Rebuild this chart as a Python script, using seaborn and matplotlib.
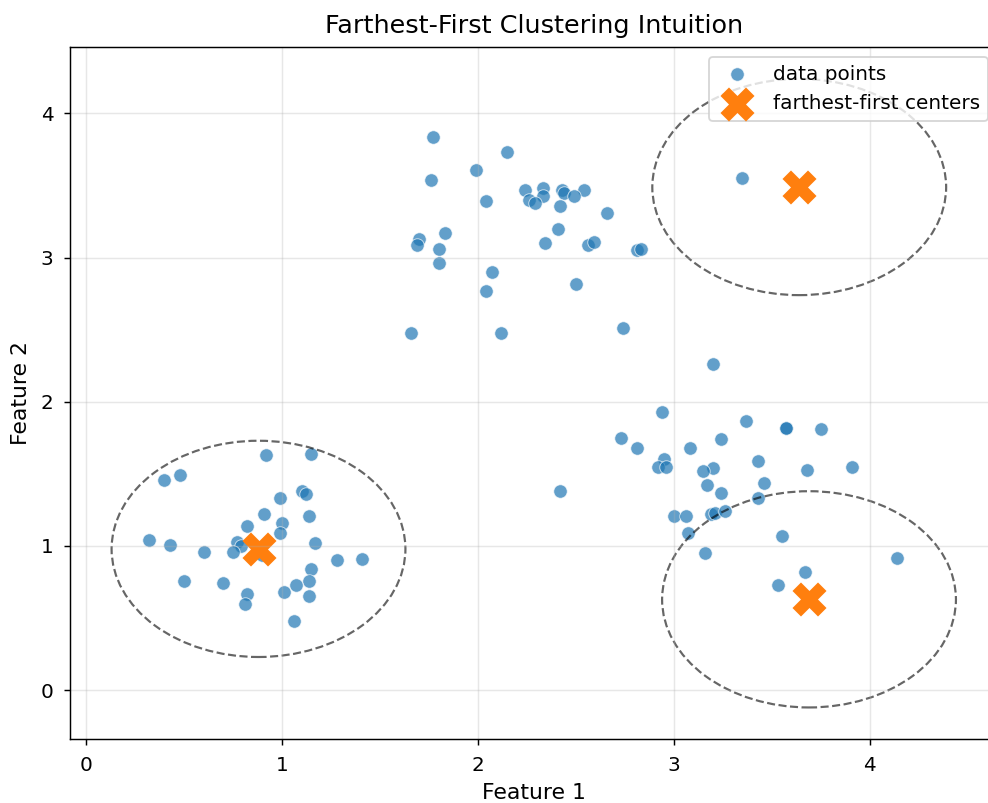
#%% libraries
import pandas as pd
import seaborn as sb
import matplotlib.pyplot as plt
from matplotlib.patches import Circle

#%% data
x_points = [0.92, 1.15, 0.40, 0.48, 1.10, 1.12, 0.99, 0.91, 1.14, 0.82,
            1.00, 0.99, 0.32, 0.43, 0.77, 0.79, 1.17, 0.60, 0.75, 0.90,
            1.28, 1.41, 1.15, 1.14, 0.50, 0.70, 1.07, 1.01, 0.82, 0.81,
            1.14, 1.06,
            1.77, 2.15, 1.99, 1.76, 2.24, 2.33, 2.33, 2.43, 2.44, 2.54,
            2.26, 2.29, 2.49, 2.04, 2.42, 2.66, 2.41, 1.83, 1.70, 1.69,
            1.80, 1.80, 2.34, 2.56, 2.59, 2.81, 2.83, 2.07, 2.04, 2.50,
            1.66, 2.12, 2.74,
            3.20, 2.94, 3.37, 3.57, 3.57, 3.75, 2.73, 2.81, 3.08, 3.24,
            2.95, 2.92, 2.96, 3.43, 3.20, 3.15, 3.68, 3.91, 3.17, 3.46,
            3.24, 3.43, 3.00, 3.06, 3.19, 3.21, 3.26, 3.07, 3.55, 3.16,
            4.14, 3.67, 3.53, 2.42,
            3.35]
y_points = [1.63, 1.64, 1.46, 1.49, 1.38, 1.36, 1.33, 1.22, 1.21, 1.14,
            1.16, 1.09, 1.04, 1.01, 1.03, 1.00, 1.02, 0.96, 0.96, 0.94,
            0.90, 0.91, 0.84, 0.76, 0.76, 0.74, 0.73, 0.68, 0.67, 0.60,
            0.65, 0.48,
            3.84, 3.73, 3.61, 3.54, 3.47, 3.48, 3.43, 3.47, 3.45, 3.47,
            3.40, 3.38, 3.43, 3.39, 3.36, 3.31, 3.20, 3.17, 3.13, 3.09,
            3.06, 2.96, 3.10, 3.09, 3.11, 3.05, 3.06, 2.90, 2.77, 2.82,
            2.48, 2.48, 2.51,
            2.26, 1.93, 1.87, 1.82, 1.82, 1.81, 1.75, 1.68, 1.68, 1.74,
            1.60, 1.55, 1.55, 1.59, 1.54, 1.52, 1.53, 1.55, 1.42, 1.44,
            1.37, 1.33, 1.21, 1.21, 1.22, 1.23, 1.24, 1.09, 1.07, 0.95,
            0.92, 0.82, 0.73, 1.38,
            3.55]
center_x = [0.88, 3.64, 3.69]
center_y = [0.98, 3.49, 0.63]
radius = 0.75

df = pd.DataFrame({"x": x_points, "y": y_points})
centers = pd.DataFrame({"x": center_x, "y": center_y})

#%% plot
fig, ax = plt.subplots(figsize=(988/131, 803/131), dpi=131)
fig.subplots_adjust(left=0.0705, right=1.010, top=0.9418, bottom=0.0793)

sb.scatterplot(data=df, x="x", y="y", s=55, alpha=0.7, color="tab:blue",
               linewidth=0.5, label="data points", ax=ax)
sb.scatterplot(data=centers, x="x", y="y", marker="X", s=350, linewidth=0,
               color="tab:orange", label="farthest-first centers", ax=ax)

for cx, cy in zip(center_x, center_y):
    ax.add_patch(Circle((cx, cy), radius, fill=False, linestyle="--",
                        linewidth=1.2, color="black", alpha=0.6))

ax.set_xlim(-0.084, 4.654)
ax.set_ylim(-0.341, 4.463)
ax.set_xticks([0, 1, 2, 3, 4])
ax.set_yticks([0, 1, 2, 3, 4])
ax.tick_params(labelsize=11, pad=5.5)
ax.grid(True, alpha=0.3)
ax.set_xlabel("Feature 1", fontsize=12, labelpad=4.5)
ax.set_ylabel("Feature 2", fontsize=12, labelpad=5)
ax.set_title("Farthest-First Clustering Intuition", fontsize=14, pad=7.5)
ax.legend(loc="upper right", fontsize=11)

plt.savefig("out.png", dpi=131)
